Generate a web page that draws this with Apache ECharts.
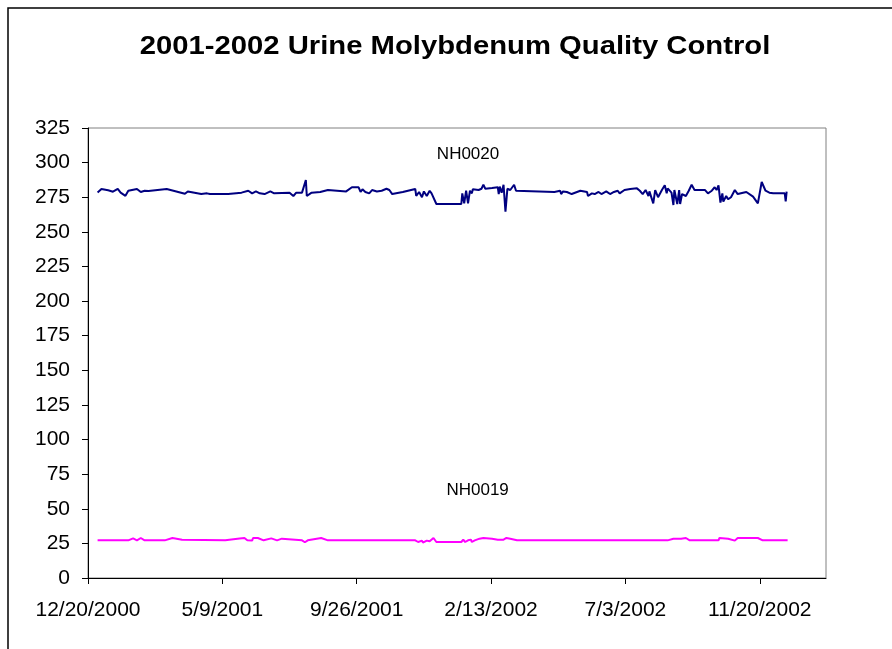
<!DOCTYPE html>
<html lang="en">
<head>
  <meta charset="UTF-8">
  <title>2001-2002 Urine Molybdenum Quality Control</title>
  <script src="https://cdn.jsdelivr.net/npm/echarts@6/dist/echarts.min.js"></script>
  <style>
    html, body { margin: 0; padding: 0; background: #fff; }
    #chart { width: 892px; height: 649px; }
  </style>
</head>
<body>
  <div id="chart"></div>
  <script>
    // days counted from 12/20/2000
    const nh0020Days = [10, 14, 21, 26, 31, 34, 39, 42, 51, 55, 59, 63, 82, 101, 104, 118, 124, 127, 134, 146,
      160, 162, 167, 171, 175, 179, 184, 190, 194, 210, 214, 217, 219, 223, 224, 227, 228, 233, 242, 250,
      269, 271, 275, 282, 284, 286, 289, 291, 293, 296, 301, 306, 311, 314, 317, 328, 341, 342, 345, 348,
      350, 353, 356, 358, 360, 363, 389, 390, 392, 394, 396, 398, 400, 401, 407, 410, 412, 414, 415, 421,
      427, 428, 429, 431, 433, 435, 437, 440, 444, 446, 486, 492, 493, 495, 499, 504, 513, 520, 521, 525,
      528, 532, 535, 540, 544, 548, 552, 554, 559, 565, 572, 575, 578, 581, 584, 585, 589, 591, 594, 598,
      601, 603, 604, 608, 610, 611, 614, 616, 617, 619, 623, 626, 629, 632, 643, 646, 650, 653, 655, 657,
      659, 661, 662, 665, 667, 670, 674, 677, 686, 688, 693, 698, 702, 706, 710, 714, 726, 727, 728];
    const nh0020Values = [278.5, 281, 280, 279, 281, 278.3, 276, 279.7, 281, 278.8, 279.7, 279.5, 281, 277.5, 279.2, 277.3, 277.8, 277.3, 277.3, 277.3,
      278.3, 279.7, 279.7, 277.8, 279.2, 277.8, 277.3, 279.2, 277.8, 278.3, 275.9, 278.3, 277.8, 278.3, 277.8, 287.4, 275.9, 278.3, 278.8, 280.2,
      279.2, 277.8, 282.2, 282.2, 278.8, 280.7, 278.8, 280.2, 277.8, 280.2, 279.2, 279.7, 281.1, 280.2, 277.3, 278.8, 281, 275.9, 278.8, 275,
      279.2, 275.9, 279.7, 277.8, 277.3, 270.1, 270.1, 277.8, 270.6, 279.7, 270.6, 279.7, 277.8, 280.7, 280.2, 281.1, 284.1, 281.1, 282.2, 281.6,
      282.2, 277.3, 282.7, 278.3, 284, 264.6, 281.1, 280.2, 284, 279.7, 278.8, 279.7, 277.3, 279.2, 278.8, 277.3, 279.7, 278.8, 275.9, 277.8,
      277.3, 278.8, 277.3, 279.2, 277.3, 278.8, 279.7, 277.8, 280.2, 280.9, 281.4, 279.7, 277.3, 280.2, 275.9, 279.2, 270.6, 280.2, 275, 280.2,
      283.6, 277.8, 281.4, 278.3, 269.4, 280.2, 270.1, 280.2, 270.1, 277.3, 275.9, 279.7, 284, 280.2, 280.2, 277.8, 279.7, 282.2, 280.2, 283.6,
      271.1, 277.8, 271.8, 275.9, 273.5, 275, 280.2, 277.3, 278.8, 280.2, 275.4, 270.6, 286, 279.7, 278.3, 277.8, 277.8, 272, 279];

    const nh0019Days = [10, 42, 47, 51, 55, 59, 80, 88, 98, 143, 158, 160, 163, 166, 171, 172, 177, 183, 191, 197,
      202, 204, 223, 226, 229, 243, 250, 341, 344, 348, 349, 353, 356, 360, 363, 389, 391, 393, 396, 399,
      400, 403, 408, 412, 414, 421, 427, 429, 433, 436, 440, 447, 523, 525, 526, 601, 603, 604, 610, 611,
      618, 623, 627, 657, 658, 660, 667, 674, 677, 698, 703, 729];
    const nh0019Values = [27.2, 27.2, 28.6, 27.2, 28.9, 27.2, 27.2, 28.9, 27.7, 27.2, 28.6, 27.4, 28.9, 27.2, 27.0, 28.9, 28.9, 27.2, 28.6, 27.2,
      28.4, 27.0, 27.2, 25.8, 27.2, 28.9, 27.2, 27.2, 26.0, 27.0, 25.5, 27.0, 26.5, 28.9, 26.0, 26.0, 27.7, 26.0, 27.2, 27.7,
      26.0, 27.2, 28.4, 28.9, 27.7, 28.4, 27.7, 28.9, 27.7, 28.9, 28.4, 27.2, 27.2, 28.4, 27.2, 27.2, 28.4, 27.2, 28.4, 27.2,
      28.4, 28.9, 27.2, 27.2, 28.9, 28.4, 28.4, 27.0, 28.9, 28.9, 27.2, 27.2];

    const seriesNames = ['NH0020', 'NH0019'];
    const labelAt = [[396, 306], [406, 63]];   // where the series names sit (day, value)

    const BASE = Date.UTC(2000, 11, 20);
    function dayLabel(d) {
      const t = new Date(BASE + d * 86400000);
      return (t.getUTCMonth() + 1) + '/' + t.getUTCDate() + '/' + t.getUTCFullYear();
    }

    const font = 'Liberation Sans, Arial, sans-serif';
    const chart = echarts.init(document.getElementById('chart'));

    function nameMark(i) {
      return {
        silent: true,
        symbol: 'rect',
        symbolSize: 1,
        itemStyle: { color: 'rgba(0,0,0,0)' },
        animation: false,
        label: {
          show: true,
          position: 'inside',
          formatter: seriesNames[i],
          color: '#000',
          fontFamily: font,
          fontSize: 17
        },
        data: [{ coord: labelAt[i] }]
      };
    }

    chart.setOption({
      animation: false,
      backgroundColor: '#fff',
      graphic: [{
        type: 'rect',
        shape: { x: 8, y: 8, width: 900, height: 700 },
        style: { fill: 'none', stroke: '#000', lineWidth: 1.5 },
        silent: true
      }, {
        type: 'text',
        x: 455,
        y: 47,
        scaleX: 1.17,
        style: {
          text: '2001-2002 Urine Molybdenum Quality Control',
          font: 'bold 25px ' + font,
          fill: '#000',
          align: 'center',
          verticalAlign: 'middle'
        },
        silent: true
      }],
      grid: {
        left: 88, right: 66, top: 128, bottom: 71,
        show: true,
        borderColor: '#808080',
        borderWidth: 1
      },
      xAxis: {
        type: 'value',
        min: 0,
        max: 769,
        interval: 140,
        splitLine: { show: false },
        axisLine: { lineStyle: { color: '#000', width: 1 } },
        axisTick: { show: true, length: 6, inside: false, lineStyle: { color: '#000' } },
        axisLabel: {
          margin: 22,
          showMaxLabel: false,
          color: '#000',
          fontFamily: font,
          fontSize: 21,
          formatter: v => (v % 140 === 0 ? dayLabel(v) : '')
        }
      },
      yAxis: {
        type: 'value',
        min: 0,
        max: 325,
        interval: 25,
        splitLine: { show: false },
        axisLine: { show: true, lineStyle: { color: '#000', width: 1 } },
        axisTick: { show: true, length: 6, inside: false, lineStyle: { color: '#000' } },
        axisLabel: { margin: 18, color: '#000', fontFamily: font, fontSize: 21 }
      },
      series: [{
        name: seriesNames[0],
        type: 'line',
        data: nh0020Days.map((d, i) => [d, nh0020Values[i]]),
        showSymbol: false,
        lineStyle: { color: '#000080', width: 2 },
        itemStyle: { color: '#000080' },
        markPoint: nameMark(0)
      }, {
        name: seriesNames[1],
        type: 'line',
        data: nh0019Days.map((d, i) => [d, nh0019Values[i]]),
        showSymbol: false,
        lineStyle: { color: '#ff00ff', width: 2 },
        itemStyle: { color: '#ff00ff' },
        markPoint: nameMark(1)
      }]
    });
  </script>
</body>
</html>
